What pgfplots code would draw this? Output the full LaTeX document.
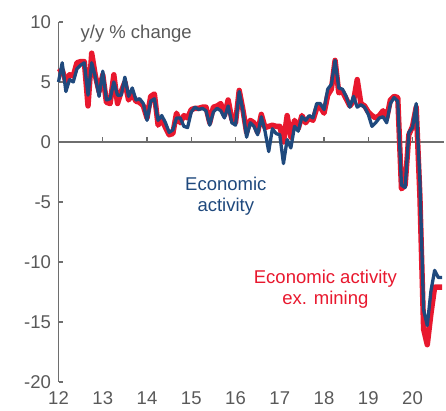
\documentclass[border=0pt]{standalone}
\usepackage{fontspec}
\setmainfont{Liberation Sans}
\usepackage{pgfplots}
\usepackage{pgfplotstable}
\pgfplotsset{compat=1.18}
\definecolor{eared}{RGB}{232,24,46}
\definecolor{eablue}{RGB}{31,73,125}
\definecolor{axgray}{RGB}{110,110,110}
\definecolor{txtgray}{RGB}{89,89,89}

\pgfplotstableread{
i ea exm
0 5.0 5.8
1 6.6 6.0
2 4.2 5.0
3 5.2 5.6
4 5.0 5.5
5 6.1 6.6
6 6.4 6.7
7 6.6 6.7
8 3.9 3.0
9 6.6 7.4
10 5.4 5.5
11 3.8 4.2
12 5.9 5.6
13 3.5 3.3
14 3.6 3.2
15 5.0 5.6
16 3.9 3.2
17 3.9 4.2
18 5.4 5.0
19 3.8 3.5
20 4.5 4.0
21 3.5 3.4
22 3.6 3.3
23 3.2 3.0
24 1.8 2.0
25 3.4 3.8
26 3.6 4.0
27 1.8 1.4
28 2.2 1.9
29 1.6 1.2
30 0.8 0.6
31 1.0 0.7
32 2.0 2.4
33 2.0 1.6
34 1.3 2.2
35 1.2 2.0
36 2.5 2.7
37 2.9 2.8
38 2.7 2.8
39 2.8 2.9
40 2.6 2.9
41 1.4 1.6
42 2.5 2.9
43 2.8 3.0
44 2.6 3.2
45 2.0 2.2
46 3.0 3.5
47 1.6 1.9
48 1.4 1.6
49 4.2 4.3
50 2.6 2.7
51 0.4 0.8
52 1.6 1.8
53 1.3 1.6
54 0.6 0.8
55 2.1 2.3
56 0.9 1.2
57 -0.8 1.3
58 1.1 1.4
59 0.7 1.3
60 0.6 1.3
61 -1.8 0.0
62 0.2 2.2
63 -0.5 0.4
64 1.3 1.8
65 0.9 1.1
66 2.1 2.2
67 1.8 1.6
68 2.2 2.0
69 2.0 1.8
70 3.2 2.8
71 3.2 2.9
72 2.7 2.4
73 4.4 3.9
74 4.8 4.4
75 6.8 6.8
76 4.5 4.1
77 4.4 4.2
78 3.8 3.6
79 2.9 3.0
80 3.8 3.4
81 2.9 5.2
82 3.1 3.2
83 2.9 3.0
84 2.3 2.5
85 1.3 2.2
86 1.6 2.0
87 2.0 2.2
88 2.1 2.6
89 1.6 2.0
90 3.2 3.5
91 3.7 3.8
92 3.4 3.7
93 -3.6 -3.9
94 -3.8 -3.6
95 0.8 0.6
96 1.2 1.3
97 3.2 2.9
98 -3.3 -4.5
99 -14.0 -15.6
100 -15.3 -16.9
101 -12.4 -14.3
102 -10.7 -12.1
103 -11.3 -12.1
104 -11.3 -12.1
}\data

\begin{document}
\begin{tikzpicture}
\begin{axis}[
  scale only axis,
  width=385pt, height=360pt,
  xmin=12, xmax=20.7,
  ymin=-20, ymax=10,
  clip=false,
  axis lines*=left,
  x axis line style={draw=none},
  y axis line style={draw=axgray, line width=1.3pt},
  xtick={12,13,14,15,16,17,18,19,20},
  ytick={-20,-15,-10,-5,0,5,10},
  xtick style={draw=none},
  ytick style={draw=axgray, line width=1.3pt},
  tick align=inside,
  major tick length=4.5pt,
  /pgf/number format/assume math mode=true,
  every tick label/.append style={font=\fontsize{18.5}{21}\selectfont, text=txtgray},
  xticklabel style={yshift=-6pt},
  yticklabel style={xshift=-4pt},
]
\draw[axgray, line width=1.3pt] (axis cs:12,0) -- (axis cs:20.7,0);
\pgfplotsinvokeforeach{13,14,15,16,17,18,19,20}{
  \draw[axgray, line width=1.3pt] (axis cs:#1,0) -- (axis cs:#1,0.4);
}
\addplot[eared, line width=5.4pt, line join=round, mark=none] table[x expr=12+\thisrow{i}/12, y=exm] {\data};
\addplot[eablue, line width=3.3pt, line join=round, mark=none] table[x expr=12+\thisrow{i}/12, y=ea] {\data};

\node[anchor=west, text=txtgray, font=\fontsize{18.5}{21}\selectfont] at (axis cs:12.42,9.0) {y/y \% change};
\node[align=center, text=eablue, font=\fontsize{18.5}{21}\selectfont] at (axis cs:15.78,-4.5) {Economic\\activity};
\node[align=center, text=eared, font=\fontsize{18.5}{21}\selectfont] at (axis cs:18.03,-12.25) {Economic activity\\ex. mining};
\path (rel axis cs:-0.152,-0.0806) rectangle (rel axis cs:1.0065,1.061);
\end{axis}
\end{tikzpicture}
\end{document}
